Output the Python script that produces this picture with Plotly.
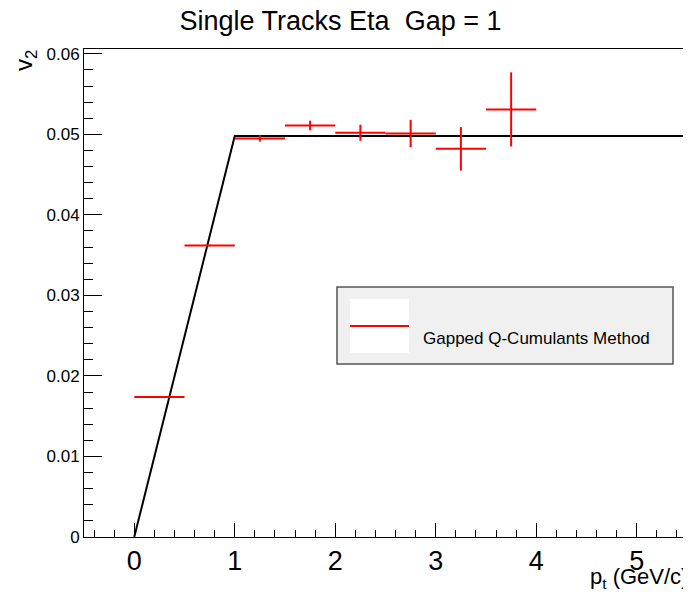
import plotly.graph_objects as go

# ---- data ----
pt = [0.25, 0.75, 1.25, 1.75, 2.25, 2.75, 3.25, 3.75]
pt_err = [0.25, 0.25, 0.25, 0.25, 0.25, 0.25, 0.25, 0.25]
v2 = [0.0174, 0.0362, 0.0495, 0.0511, 0.0502, 0.0501, 0.0482, 0.0531]
v2_err = [0.0001, 0.0001, 0.0004, 0.0006, 0.0010, 0.0017, 0.0027, 0.0046]
fit_x = [0.0, 1.0, 5.5]
fit_y = [0.0, 0.0498, 0.0498]

title_text = "Single Tracks Eta\u00a0\u00a0Gap = 1"
legend_label = "Gapped Q-Cumulants Method"
x_title = "p<sub>t</sub> (GeV/c)"
y_title = "v<sub>2</sub>"

FONT = "Liberation Sans, Arial, sans-serif"

fig = go.Figure()
fig.add_trace(go.Scatter(
    x=fit_x, y=fit_y, mode="lines",
    line=dict(color="black", width=2), showlegend=False, hoverinfo="skip"))
fig.add_trace(go.Scatter(
    x=pt, y=v2, mode="markers",
    marker=dict(size=1, color="red"),
    error_x=dict(type="data", array=pt_err, color="red", thickness=2, width=0),
    error_y=dict(type="data", array=v2_err, color="red", thickness=2, width=0),
    showlegend=False, name=legend_label))

# page body has an 8px margin; work in reference pixel coords and shift
OFF = 8
W, H = 691 - OFF, 596 - OFF
L, T = 84 - OFF, 49 - OFF
R = W - (687 - OFF)
B = H - (537 - OFF)
pw, ph = W - L - R, H - T - B

def px(x):
    return (x - OFF - L) / pw

def py(y):
    return (H - B - (y - OFF)) / ph

shapes = [
    dict(type="rect", xref="paper", yref="paper", x0=px(337), x1=px(673), y0=py(364), y1=py(287),
         fillcolor="#f0f0f0", line=dict(color="#555555", width=1.5), layer="above"),
    dict(type="rect", xref="paper", yref="paper", x0=px(350), x1=px(409), y0=py(353), y1=py(299),
         fillcolor="white", line=dict(width=0), layer="above"),
    dict(type="line", xref="paper", yref="paper", x0=px(350), x1=px(409), y0=py(326), y1=py(326),
         line=dict(color="red", width=2), layer="above"),
]

annotations = [
    dict(text=legend_label, xref="paper", yref="paper", x=px(421), y=py(338),
         xanchor="left", yanchor="middle", showarrow=False,
         font=dict(family=FONT, size=17, color="black")),
    dict(text=x_title, xref="paper", yref="paper", x=px(690), y=py(594),
         xanchor="right", yanchor="bottom", showarrow=False,
         font=dict(family=FONT, size=22, color="black")),
    dict(text=y_title, xref="paper", yref="paper", x=px(8), y=py(48),
         xanchor="left", yanchor="top", showarrow=False, textangle=-90,
         font=dict(family=FONT, size=24, color="black")),
]

fig.update_layout(
    width=W, height=H,
    margin=dict(l=L, r=R, t=T, b=B, autoexpand=False),
    paper_bgcolor="white", plot_bgcolor="white",
    title=dict(text=title_text, x=(340.5 - OFF) / W, xanchor="center",
               y=1 - (21 - OFF) / H, yanchor="middle",
               font=dict(family=FONT, size=27, color="black"), automargin=False),
    shapes=shapes, annotations=annotations,
    showlegend=False,
)
fig.update_xaxes(
    range=[-0.5, 5.5], showgrid=False, zeroline=False, automargin=False,
    showline=True, linecolor="black", linewidth=1, mirror=True,
    ticks="inside", ticklen=14, tickcolor="black", dtick=1, tick0=0,
    minor=dict(ticks="inside", ticklen=7, dtick=0.2, tick0=0, tickcolor="black", showgrid=False),
    tickfont=dict(family=FONT, size=27, color="black"),
)
fig.update_yaxes(
    range=[0, 0.0606], showgrid=False, zeroline=False, automargin=False,
    showline=True, linecolor="black", linewidth=1, mirror=True,
    ticks="inside", ticklen=18, tickcolor="black", dtick=0.01, tick0=0,
    minor=dict(ticks="inside", ticklen=9, dtick=0.002, tick0=0, tickcolor="black", showgrid=False),
    tickfont=dict(family=FONT, size=17, color="black"),
)

fig.write_html("out.html")
